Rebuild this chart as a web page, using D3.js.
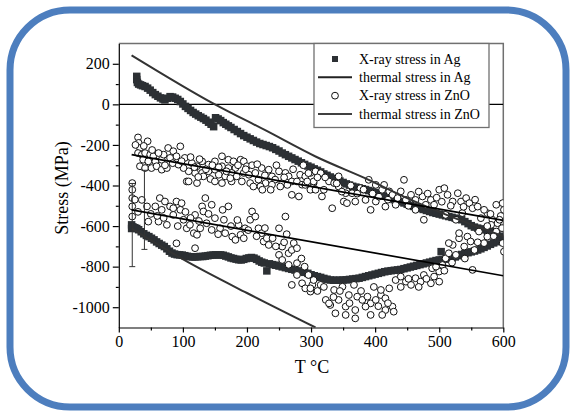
<!DOCTYPE html>
<html>
<head>
<meta charset="utf-8">
<script src="https://d3js.org/d3.v7.min.js"></script>
<style>
  body { margin: 0; background: #fff; }
  svg { display: block; }
  svg text { font-family: "Liberation Serif", "Times New Roman", serif; }
</style>
</head>
<body>
<div id="chart"></div>
<script>
// ---------------- Data ---------------- //

// X-ray stress in Ag, upper sample [T (°C), stress (MPa)]
const agUpper = [[28,138],[28,122],[29,108],[31,100],[34,96],[37,92],[41,88],[45,80],[49,70],[53,58],[57,48],[61,40],[65,32],[69,26],[72,22],[76,30],[80,38],[84,36],[88,30],[92,24],[96,14],[100,2],[104,-10],[108,-20],[112,-30],[116,-40],[120,-48],[124,-56],[128,-63],[132,-70],[136,-78],[140,-88],[144,-98],[148,-110],[151,-66],[155,-72],[159,-80],[163,-90],[167,-98],[171,-106],[175,-114],[180,-124],[185,-134],[190,-144],[195,-154],[200,-162],[205,-170],[210,-178],[215,-186],[220,-193],[225,-198],[230,-203],[235,-208],[240,-214],[245,-222],[250,-230],[255,-240],[260,-248],[265,-256],[270,-264],[275,-272],[280,-280],[285,-288],[290,-296],[295,-304],[300,-310],[305,-318],[310,-325],[315,-333],[320,-343],[325,-350],[330,-358],[335,-365],[340,-372],[345,-378],[350,-385],[355,-392],[360,-398],[365,-404],[370,-408],[375,-412],[380,-416],[385,-420],[390,-425],[395,-430],[400,-435],[405,-440],[410,-446],[415,-452],[420,-458],[425,-464],[430,-470],[435,-475],[440,-480],[445,-486],[450,-492],[455,-498],[460,-503],[465,-508],[470,-513],[475,-518],[480,-523],[485,-528],[490,-533],[495,-537],[500,-541],[505,-545],[510,-549],[515,-553],[520,-557],[525,-561],[530,-565],[535,-569],[540,-578],[545,-588],[550,-598],[555,-605],[560,-610],[565,-614],[570,-618],[575,-622],[580,-626],[585,-632],[590,-640],[595,-650],[600,-660]];

// X-ray stress in Ag, lower sample
const agLower = [[20,-594],[20,-612],[22,-604],[25,-608],[28,-612],[31,-618],[35,-628],[39,-638],[43,-646],[47,-652],[51,-660],[55,-668],[59,-678],[63,-686],[67,-694],[71,-701],[75,-712],[79,-724],[83,-733],[87,-738],[91,-741],[95,-742],[99,-743],[103,-746],[107,-749],[111,-751],[115,-752],[119,-752],[123,-751],[127,-750],[131,-750],[135,-748],[139,-746],[143,-744],[147,-743],[151,-742],[155,-742],[159,-742],[163,-744],[167,-748],[171,-752],[175,-757],[179,-760],[183,-763],[187,-766],[191,-767],[195,-764],[199,-760],[203,-757],[207,-755],[211,-758],[215,-764],[219,-772],[223,-778],[227,-782],[231,-821],[235,-786],[240,-790],[245,-793],[250,-797],[255,-801],[260,-805],[265,-809],[270,-813],[275,-817],[280,-821],[285,-825],[290,-828],[295,-833],[300,-840],[305,-845],[310,-849],[315,-853],[320,-858],[325,-862],[330,-866],[335,-867],[340,-867],[345,-867],[350,-866],[355,-865],[360,-863],[365,-861],[370,-859],[375,-857],[380,-853],[385,-849],[390,-845],[395,-841],[400,-837],[405,-833],[410,-829],[415,-825],[420,-822],[425,-820],[430,-818],[435,-816],[440,-814],[445,-810],[450,-806],[455,-802],[460,-798],[465,-794],[470,-790],[475,-786],[480,-782],[485,-778],[490,-774],[495,-770],[500,-767],[503,-726],[505,-765],[510,-763],[515,-761],[520,-758],[525,-752],[530,-746],[535,-740],[540,-735],[545,-731],[550,-727],[555,-723],[560,-718],[565,-712],[570,-705],[575,-698],[580,-690],[585,-683],[590,-677],[595,-672],[600,-668]];

// X-ray stress in ZnO, upper sample
const znoUpper = [[30,-163],[31,-190],[45,-182],[33,-215],[30,-240],[36,-248],[41,-240],[49,-248],[54,-256],[38,-273],[46,-281],[57,-281],[67,-273],[33,-305],[41,-314],[51,-314],[59,-305],[67,-322],[75,-314],[77,-215],[85,-231],[96,-207],[90,-256],[80,-264],[70,-248],[103,-264],[114,-289],[122,-305],[130,-281],[140,-297],[150,-281],[161,-256],[171,-273],[179,-281],[190,-273],[195,-281],[200,-305],[182,-314],[171,-314],[161,-305],[150,-322],[140,-330],[130,-338],[119,-338],[109,-330],[101,-314],[93,-297],[106,-380],[122,-388],[132,-355],[143,-368],[156,-347],[166,-355],[176,-338],[184,-355],[195,-338],[203,-347],[213,-338],[223,-314],[234,-322],[239,-355],[250,-330],[260,-338],[265,-355],[270,-380],[278,-380],[283,-347],[291,-355],[299,-338],[307,-330],[218,-371],[229,-388],[244,-371],[255,-388],[239,-396],[286,-396],[304,-388],[302,-412],[221,-404],[205,-388],[192,-380],[124,-358],[176,-380],[150,-380],[161,-388],[109,-380],[174,-364],[210,-405],[224,-421],[237,-421],[252,-405],[263,-397],[270,-446],[281,-454],[299,-421],[296,-339],[304,-380],[315,-339],[317,-454],[328,-380],[336,-388],[343,-355],[333,-512],[351,-479],[356,-487],[369,-479],[364,-438],[377,-413],[390,-372],[401,-397],[411,-421],[414,-397],[393,-520],[385,-471],[422,-429],[427,-446],[440,-429],[445,-372],[435,-462],[448,-471],[456,-446],[463,-471],[474,-454],[479,-495],[487,-471],[492,-495],[500,-421],[508,-413],[513,-446],[521,-479],[529,-438],[534,-479],[542,-462],[547,-487],[552,-512],[560,-504],[575,-536],[583,-569],[589,-495],[599,-487],[601,-520],[476,-569],[510,-545],[536,-536],[565,-561],[591,-586],[416,-504],[401,-479],[320,-421],[307,-421],[291,-397],[343,-405],[354,-438],[432,-495],[463,-520],[526,-569],
  [26,-200],[39,-205],[52,-225],[62,-240],[72,-300],[84,-290],[98,-280],[112,-260],[118,-310],[126,-270],[136,-320],[146,-300],[156,-310],[168,-330],[186,-300],[198,-320],[208,-300],[216,-295],[228,-350],[246,-300],[258,-360],[272,-320],[288,-300],[294,-380],[310,-360],[322,-360],[340,-390],[348,-430],[362,-400],[372,-440],[382,-420],[396,-440],[406,-455],[420,-470],[452,-500],[468,-430],[482,-440],[496,-460],[504,-480],[518,-500],[538,-505],[556,-470],[570,-520],[580,-540],[596,-550]];

// X-ray stress in ZnO, lower sample
const znoLower = [[21,-388],[21,-421],[21,-462],[21,-503],[21,-553],[36,-471],[44,-503],[46,-578],[57,-503],[64,-462],[72,-479],[67,-520],[62,-578],[75,-594],[80,-503],[85,-512],[90,-479],[98,-487],[96,-520],[101,-569],[106,-611],[111,-594],[117,-635],[119,-545],[130,-503],[135,-462],[132,-528],[127,-611],[122,-643],[137,-586],[145,-495],[150,-561],[145,-619],[158,-611],[164,-569],[171,-503],[166,-635],[177,-652],[182,-668],[190,-643],[187,-594],[197,-611],[205,-569],[208,-528],[213,-553],[218,-611],[223,-635],[226,-676],[234,-693],[231,-660],[250,-611],[260,-553],[255,-701],[265,-734],[270,-718],[273,-684],[278,-709],[250,-742],[255,-767],[265,-791],[278,-783],[270,-890],[286,-882],[291,-907],[302,-890],[299,-923],[278,-841],[90,-685],[119,-709],[296,-841],[304,-866],[299,-907],[315,-890],[323,-964],[330,-989],[343,-964],[336,-915],[349,-899],[354,-997],[359,-940],[367,-890],[369,-1055],[372,-948],[380,-964],[388,-948],[393,-981],[401,-964],[409,-940],[416,-956],[416,-1014],[427,-997],[429,-1022],[411,-1038],[393,-1038],[354,-1038],[328,-981],[432,-866],[440,-849],[448,-874],[456,-890],[463,-857],[471,-874],[476,-841],[487,-882],[492,-849],[500,-874],[489,-808],[500,-824],[505,-792],[510,-759],[515,-734],[526,-742],[521,-693],[531,-660],[539,-701],[544,-652],[549,-676],[555,-718],[552,-816],[562,-627],[570,-684],[575,-652],[581,-594],[589,-627],[594,-569],[599,-684],[601,-726],[531,-635],[515,-684],[422,-907],[409,-915],[338,-1030],[385,-997],[369,-1014],
  [25,-470],[30,-530],[50,-540],[60,-550],[70,-560],[85,-545],[92,-600],[104,-530],[112,-560],[125,-575],[140,-540],[155,-640],[162,-520],[175,-600],[185,-570],[195,-660],[202,-620],[215,-650],[228,-610],[240,-660],[245,-700],[258,-680],[262,-640],[285,-760],[290,-800],[310,-920],[320,-900],[335,-950],[345,-920],[360,-980],[378,-920],[398,-900],[405,-995],[420,-980],[440,-900],[452,-860],[468,-900],[480,-860],[495,-800],[508,-820],[520,-780],[540,-760],[560,-680],[575,-600],[585,-650],[598,-610]];

// Thermal stress curves
const thermalAgUpper = [[20,242],[150,0],[230,-130],[307,-257],[390,-372],[450,-462],[500,-530],[600,-650]];
const thermalAgLower = [[20,-612],[106,-774],[200,-930],[307,-1100]];
const thermalZnoUpper = [[20,-248],[600,-572]];
const thermalZnoLower = [[20,-520],[600,-845]];

// Error bars: temperature, lower and upper end
const errT = [21, 40];
const errLow = [-800, -715];
const errHigh = [-390, -325];

const xTicks = [0, 100, 200, 300, 400, 500, 600];
const xMinor = [50, 150, 250, 350, 450, 550];
const yTicks = [-1000, -800, -600, -400, -200, 0, 200];
const yMinor = [-900, -700, -500, -300, -100, 100];

const legendLabels = ["X-ray stress in Ag", "thermal stress in Ag", "X-ray stress in ZnO", "thermal stress in ZnO"];

// ---------------- Chart ---------------- //

const width = 573, height = 412;
const plot = { left: 118.8, right: 503.3, top: 43.5, bottom: 327.5 };
const serif = "Liberation Serif, Times New Roman, serif";

const svg = d3.select("#chart").append("svg")
  .attr("width", width)
  .attr("height", height);

// Rounded blue frame around everything
svg.append("rect")
  .attr("x", 10).attr("y", 10)
  .attr("width", 556).attr("height", 397)
  .attr("rx", 60).attr("ry", 60)
  .attr("fill", "none")
  .attr("stroke", "#4d7ebe")
  .attr("stroke-width", 7);

const x = d3.scaleLinear().domain([0, 600]).range([plot.left, plot.right]);
const y = d3.scaleLinear().domain([-1100, 300]).range([plot.bottom, plot.top]);

svg.append("clipPath").attr("id", "clip")
  .append("rect")
  .attr("x", plot.left).attr("y", plot.top)
  .attr("width", plot.right - plot.left).attr("height", plot.bottom - plot.top);

// Top and right frame lines
svg.append("path")
  .attr("d", `M${plot.left},${plot.top}H${plot.right}V${plot.bottom}`)
  .attr("fill", "none")
  .attr("stroke", "#707070")
  .attr("stroke-width", 1.5);

const g = svg.append("g").attr("clip-path", "url(#clip)");

// Zero line
g.append("line")
  .attr("x1", plot.left).attr("x2", plot.right)
  .attr("y1", y(0)).attr("y2", y(0))
  .attr("stroke", "#000").attr("stroke-width", 1.2);

// Ag squares
const sq = 7.5;
g.selectAll("rect.ag")
  .data(agUpper.concat(agLower))
  .enter()
  .append("rect")
  .attr("class", "ag")
  .attr("x", d => x(d[0]) - sq / 2)
  .attr("y", d => y(d[1]) - sq / 2)
  .attr("width", sq).attr("height", sq)
  .attr("fill", "#2c3034");

// ZnO circles
g.selectAll("circle.zno")
  .data(znoUpper.concat(znoLower))
  .enter()
  .append("circle")
  .attr("class", "zno")
  .attr("cx", d => x(d[0]))
  .attr("cy", d => y(d[1]))
  .attr("r", 3.4)
  .attr("fill", "#fff")
  .attr("stroke", "#111")
  .attr("stroke-width", 1);

// Error bars
errT.forEach((t, i) => {
  g.append("line")
    .attr("x1", x(t)).attr("x2", x(t))
    .attr("y1", y(errLow[i])).attr("y2", y(errHigh[i]))
    .attr("stroke", "#333").attr("stroke-width", 1);
  [errLow[i], errHigh[i]].forEach(v => {
    g.append("line")
      .attr("x1", x(t) - 3).attr("x2", x(t) + 3)
      .attr("y1", y(v)).attr("y2", y(v))
      .attr("stroke", "#333").attr("stroke-width", 1);
  });
});

// Thermal stress lines
const lineGen = d3.line().x(d => x(d[0])).y(d => y(d[1])).curve(d3.curveMonotoneX);
[[thermalAgUpper, "#333", 2], [thermalAgLower, "#333", 2],
 [thermalZnoUpper, "#000", 1.7], [thermalZnoLower, "#000", 1.7]].forEach(([pts, col, w]) => {
  g.append("path")
    .attr("d", lineGen(pts))
    .attr("fill", "none")
    .attr("stroke", col)
    .attr("stroke-width", w);
});

// Axes
function styleAxis(sel) {
  sel.attr("font-family", null).attr("font-size", null);
  sel.selectAll("line, path").attr("stroke", "#000").attr("stroke-width", 1.2);
  sel.selectAll("text")
    .attr("fill", "#000")
    .style("font-family", serif)
    .style("font-size", "16px");
}
const fmt = d => String(d);

svg.append("g")
  .attr("transform", `translate(0,${plot.bottom})`)
  .call(d3.axisBottom(x).tickValues(xTicks).tickFormat(fmt).tickSize(5).tickSizeOuter(0).tickPadding(3))
  .call(styleAxis);
svg.append("g")
  .attr("transform", `translate(0,${plot.bottom})`)
  .call(d3.axisBottom(x).tickValues(xMinor).tickSize(3).tickFormat("").tickSizeOuter(0))
  .call(styleAxis)
  .select(".domain").remove();

svg.append("g")
  .attr("transform", `translate(${plot.left},0)`)
  .call(d3.axisLeft(y).tickValues(yTicks).tickFormat(fmt).tickSize(6).tickSizeOuter(0).tickPadding(3))
  .call(styleAxis);
svg.append("g")
  .attr("transform", `translate(${plot.left},0)`)
  .call(d3.axisLeft(y).tickValues(yMinor).tickSize(3).tickFormat("").tickSizeOuter(0))
  .call(styleAxis)
  .select(".domain").remove();

// Axis titles
svg.append("text")
  .attr("transform", `translate(68,188) rotate(-90)`)
  .attr("text-anchor", "middle")
  .attr("font-size", 18)
  .text("Stress (MPa)");

svg.append("text")
  .attr("x", 312).attr("y", 373)
  .attr("text-anchor", "middle")
  .attr("font-size", 18)
  .text("T °C");

// Legend
const legend = svg.append("g").attr("class", "legend");
legend.append("rect")
  .attr("x", 314).attr("y", plot.top)
  .attr("width", 175).attr("height", 84)
  .attr("fill", "#fff")
  .attr("stroke", "#707070")
  .attr("stroke-width", 1.3);

const rowY = d3.scalePoint().domain(legendLabels).range([59, 114]);

legendLabels.forEach((label, i) => {
  const cy = rowY(label);
  if (i === 0) {
    legend.append("rect")
      .attr("x", 335 - 3).attr("y", cy - 3)
      .attr("width", 6).attr("height", 6)
      .attr("fill", "#2c3034");
  } else if (i === 2) {
    legend.append("circle")
      .attr("cx", 335).attr("cy", cy)
      .attr("r", 3.4)
      .attr("fill", "#fff").attr("stroke", "#111").attr("stroke-width", 1);
  } else {
    legend.append("line")
      .attr("x1", 318).attr("x2", 352)
      .attr("y1", cy).attr("y2", cy)
      .attr("stroke", i === 1 ? "#222" : "#000")
      .attr("stroke-width", i === 1 ? 2 : 1.7);
  }
  legend.append("text")
    .attr("x", 359).attr("y", cy + 4.5)
    .attr("font-size", 14)
    .text(label);
});
</script>
</body>
</html>
